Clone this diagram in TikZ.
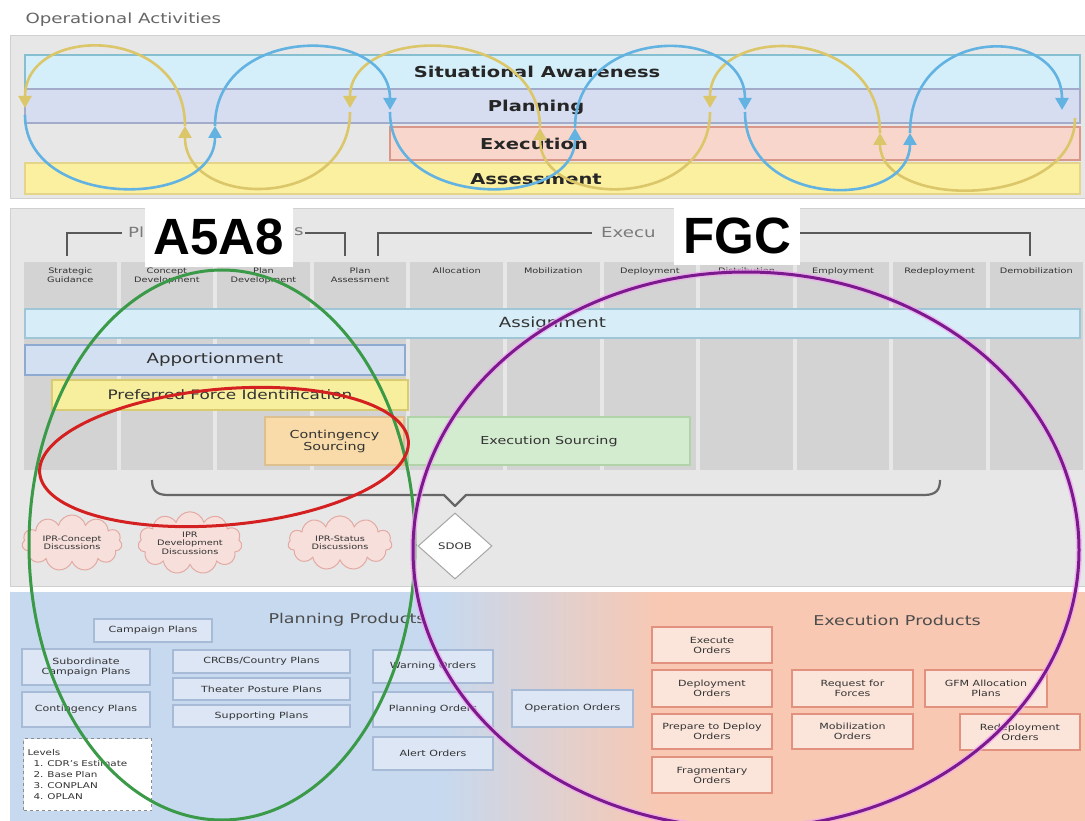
\documentclass[tikz,border=0pt]{standalone}
\usepackage{fontspec}
\setmainfont{DejaVu Sans}[FakeStretch=1.3]
\newfontfamily\tagfont{Liberation Sans}
\usetikzlibrary{arrows.meta,shapes.symbols,shapes.geometric}

\definecolor{panel}{HTML}{E7E7E7}
\definecolor{panelline}{HTML}{D0D0D0}
\definecolor{cell}{HTML}{D3D3D3}
\definecolor{ink}{HTML}{333333}
\definecolor{soft}{HTML}{7A7A7A}
\definecolor{saFill}{HTML}{D5EFFA}\definecolor{saLine}{HTML}{86BFCF}
\definecolor{plFill}{HTML}{D6DDF0}\definecolor{plLine}{HTML}{A3ABCB}
\definecolor{exFill}{HTML}{F9D6CB}\definecolor{exLine}{HTML}{D8978A}
\definecolor{asFill}{HTML}{FBF0A0}\definecolor{asLine}{HTML}{E4D58A}
\definecolor{agFill}{HTML}{D7EEF8}\definecolor{agLine}{HTML}{9FC6D6}
\definecolor{apFill}{HTML}{D3E0F2}\definecolor{apLine}{HTML}{8EAAD0}
\definecolor{pfFill}{HTML}{F7EF9E}\definecolor{pfLine}{HTML}{D9CC70}
\definecolor{csFill}{HTML}{F8DBA8}\definecolor{csLine}{HTML}{DCC090}
\definecolor{esFill}{HTML}{D3EBCF}\definecolor{esLine}{HTML}{B0D4A8}
\definecolor{clFill}{HTML}{F7DFDB}\definecolor{clLine}{HTML}{E3AAA3}
\definecolor{ppFill}{HTML}{DCE6F5}\definecolor{ppLine}{HTML}{A7BAD6}
\definecolor{epFill}{HTML}{FBE5DA}\definecolor{epLine}{HTML}{E2917F}
\definecolor{planBg}{HTML}{C6D9EF}
\definecolor{execBg}{HTML}{F8C8B2}
\definecolor{cycYellow}{HTML}{DCC66A}
\definecolor{cycBlue}{HTML}{62B2E2}
\definecolor{ringGreen}{HTML}{3A9A48}
\definecolor{ringRed}{HTML}{D42020}
\definecolor{ringPurple}{HTML}{7B1A8C}
\definecolor{ringGlow}{HTML}{F2A8F2}

\tikzset{
  boxbase/.style={inner sep=0pt, outer sep=0pt, align=center, text=ink},
  topbar/.style={boxbase, line width=2pt},
  midbar/.style={boxbase, line width=1.2pt},
  prodbox/.style={boxbase, line width=1.2pt, font=\fontsize{8.5}{10}\selectfont},
  planprod/.style={prodbox, draw=ppLine, fill=ppFill},
  execprod/.style={prodbox, draw=epLine, fill=epFill},
  head/.style={boxbase, anchor=north, font=\fontsize{7.5}{8.5}\selectfont},
  cyc/.style={line width=2.6pt, -{Triangle[length=12pt,width=13pt]}},
  bracketline/.style={line width=2pt, draw=black!65},
  bracketlabel/.style={anchor=west, inner sep=0pt, text=soft, font=\fontsize{14}{14}\selectfont},
  ring/.style={line width=3pt},
  ipr/.style={cloud, cloud puffs=11, aspect=2.1, draw=clLine, fill=clFill,
    line width=1pt, inner sep=0pt, align=center, text=ink,
    font=\fontsize{7.5}{8.5}\selectfont},
  tag/.style={fill=white, inner sep=0pt, font=\tagfont\bfseries\fontsize{51}{51}\selectfont}
}

% rectangle node from its two corners: name, x1, y1, x2, y2, style, text
\newcommand\rbox[7]{\node[#6, minimum width={#4-#2}, minimum height={#5-#3}]
  (#1) at ({(#2+#4)/2},{(#3+#5)/2}) {#7};}
% upper and lower halves of the cycle loops
\newcommand\upperarc[5]{\draw[cyc,#1] (#2,#3) .. controls (#2,24) and (#4,24) .. (#4,#5);}
\newcommand\lowerarc[5]{\draw[cyc,#1] (#2,#3) .. controls (#2,210) and (#4,210) .. (#4,#5);}

\begin{document}
\begin{tikzpicture}[x=1pt,y=-1pt]
\useasboundingbox (0,0) rectangle (1085,821);
\clip (0,0) rectangle (1085,821);
\fill[white] (0,0) rectangle (1085,821);

% ---------- operational activities ----------
\node[anchor=west, text=black!60, font=\fontsize{14}{14}\selectfont] (title) at (22,20) {Operational Activities};
\fill[panel, draw=panelline] (10,35) rectangle (1085,198);

\rbox{sa}{25}{55}{1080}{89}{topbar, draw=saLine, fill=saFill}{}
\rbox{pl}{25}{89}{1080}{123}{topbar, draw=plLine, fill=plFill}{}
\rbox{ex}{390}{127}{1080}{160}{topbar, draw=exLine, fill=exFill}{}
\rbox{as}{25}{163}{1080}{194}{topbar, draw=asLine, fill=asFill}{}
\tikzset{bartext/.style={text=black!85, font=\bfseries\fontsize{15}{15}\selectfont}}
\node[bartext] (saT) at (537,72) {Situational Awareness};
\node[bartext] (plT) at (536,107) {Planning};
\node[bartext] (exT) at (534,144) {Execution};
\node[bartext] (asT) at (536,179) {Assessment};

% yellow loop runs right to left, blue loop left to right
\upperarc{cycYellow}{185}{126}{25}{108}
\lowerarc{cycYellow}{350}{112}{185}{126}
\upperarc{cycYellow}{540}{128}{350}{108}
\lowerarc{cycYellow}{710}{112}{540}{128}
\upperarc{cycYellow}{880}{133}{710}{108}
\lowerarc{cycYellow}{1075}{118}{880}{133}
\lowerarc{cycBlue}{25}{115}{215}{126}
\upperarc{cycBlue}{215}{126}{390}{110}
\lowerarc{cycBlue}{390}{112}{575}{128}
\upperarc{cycBlue}{575}{128}{745}{110}
\lowerarc{cycBlue}{745}{112}{910}{133}
\upperarc{cycBlue}{910}{133}{1062}{110}

% ---------- functions ----------
\fill[panel, draw=panelline] (10,208) rectangle (1085,586);

\foreach \i in {0,...,10}{
  \pgfmathsetmacro\xa{22+96.6*\i+2}
  \pgfmathsetmacro\xb{22+96.6*(\i+1)-2}
  \fill[cell] (\xa,262) rectangle (\xb,470);
}
\foreach \i/\t in {0/{Strategic\\Guidance},1/{Concept\\Development},2/{Plan\\Development},
  3/{Plan\\Assessment},4/Allocation,5/Mobilization,6/Deployment,7/Distribution,
  8/Employment,9/Redeployment,10/Demobilization}{
  \node[head] (h\i) at ({22+96.6*\i+48.3},268) {\t};
}

% bracket labels, partly hidden behind the tags
\node[bracketlabel] (pfunA) at (128,232) {Pl};
\node[bracketlabel] (pfunB) at (294,232) {s};
\node[bracketlabel] (efun) at (601,232) {Execu};
\draw[bracketline] (67,256) -- (67,233) -- (122,233);
\draw[bracketline] (305,233) -- (345,233) -- (345,256);
\draw[bracketline] (378,256) -- (378,233) -- (592,233);
\draw[bracketline] (797,233) -- (1030,233) -- (1030,256);

\rbox{assign}{25}{309}{1080}{338}{midbar, draw=agLine, fill=agFill, font=\fontsize{14}{14}\selectfont}{Assignment}
\rbox{apport}{25}{345}{405}{375}{midbar, draw=apLine, fill=apFill, font=\fontsize{14}{14}\selectfont}{Apportionment}
\rbox{pfi}{52}{380}{408}{410}{midbar, draw=pfLine, fill=pfFill, font=\fontsize{13}{13}\selectfont}{Preferred Force Identification}
\rbox{csrc}{265}{417}{404}{465}{midbar, draw=csLine, fill=csFill, font=\fontsize{11}{12}\selectfont}{Contingency\\Sourcing}
\rbox{esrc}{408}{417}{690}{465}{midbar, draw=esLine, fill=esFill, font=\fontsize{11}{11}\selectfont}{Execution Sourcing}

% brace gathering the sourcing effort above the SDOB
\node[diamond, draw=black!35, fill=white, line width=1pt, minimum width=74pt, minimum height=66pt,
  inner sep=0pt, text=ink, font=\fontsize{9}{9}\selectfont] (sdob) at (455,546) {SDOB};
\coordinate (tip) at (455,506);
\draw[line width=2.2pt, draw=black!60, line join=round]
  (152,480) .. controls (152,490) and (156,495) .. (168,495) -- (444,495) -- (tip)
  -- (466,495) -- (924,495) .. controls (936,495) and (940,490) .. (940,480);

\node[ipr, minimum width=100pt, minimum height=50pt] (ipr1) at (72,543) {IPR-Concept\\Discussions};
\node[ipr, minimum width=104pt, minimum height=54pt] (ipr2) at (190,543) {IPR\\Development\\Discussions};
\node[ipr, minimum width=104pt, minimum height=50pt] (ipr3) at (340,543) {IPR-Status\\Discussions};

% ---------- products ----------
\fill[planBg] (10,592) rectangle (440,821);
\shade[left color=planBg, right color=execBg] (439,592) rectangle (661,821);
\fill[execBg] (660,592) rectangle (1085,821);

\node[text=black!70, font=\fontsize{13.5}{13.5}\selectfont] (pprod) at (347,620) {Planning Products};
\node[text=black!70, font=\fontsize{13.5}{13.5}\selectfont] (eprod) at (897,620) {Execution Products};

\rbox{camp}{94}{619}{212}{642}{planprod}{Campaign Plans}
\rbox{subc}{22}{649}{150}{685}{planprod}{Subordinate\\Campaign Plans}
\rbox{cont}{22}{692}{150}{727}{planprod}{Contingency Plans}
\rbox{ctry}{173}{650}{350}{673}{planprod}{CRCBs/Country Plans}
\rbox{post}{173}{678}{350}{700}{planprod}{Theater Posture Plans}
\rbox{supp}{173}{705}{350}{727}{planprod}{Supporting Plans}
\rbox{warn}{373}{650}{493}{683}{planprod}{Warning Orders}
\rbox{plan}{373}{692}{493}{727}{planprod}{Planning Orders}
\rbox{alert}{373}{737}{493}{770}{planprod}{Alert Orders}
\rbox{oper}{512}{690}{633}{727}{planprod}{Operation Orders}
\node[draw=black!45, dashed, fill=white, line width=1pt, anchor=north west, minimum width=128pt,
  minimum height=72pt, text width=120pt, inner sep=4pt, align=left, text=ink,
  font=\fontsize{8}{11}\selectfont] (levels) at (23,738)
  {Levels\\\hspace*{6pt}1. CDR's Estimate\\\hspace*{6pt}2. Base Plan\\\hspace*{6pt}3. CONPLAN\\\hspace*{6pt}4. OPLAN};

\rbox{exo}{652}{627}{772}{663}{execprod}{Execute\\Orders}
\rbox{depo}{652}{670}{772}{707}{execprod}{Deployment\\Orders}
\rbox{ptdo}{652}{714}{772}{749}{execprod}{Prepare to Deploy\\Orders}
\rbox{frag}{652}{757}{772}{793}{execprod}{Fragmentary\\Orders}
\rbox{rff}{792}{670}{913}{707}{execprod}{Request for\\Forces}
\rbox{mobo}{792}{714}{913}{749}{execprod}{Mobilization\\Orders}
\rbox{gfm}{925}{670}{1047}{707}{execprod}{GFM Allocation\\Plans}
\rbox{redo}{960}{714}{1080}{750}{execprod}{Redeployment\\Orders}

% ---------- highlighted scopes ----------
\draw[ring, ringGreen] (222,545) ellipse [x radius=193, y radius=275];
\draw[ring, ringRed, rotate around={5:(224,457)}] (224,457) ellipse [x radius=185, y radius=68];
\draw[line width=6pt, ringGlow, opacity=0.7] (746,550) ellipse [x radius=333, y radius=278];
\draw[ring, ringPurple] (746,550) ellipse [x radius=333, y radius=278];

\rbox{a5a8}{145}{207}{293}{267}{tag}{A5A8}
\rbox{fgc}{674}{207}{800}{265}{tag}{FGC}
\end{tikzpicture}
\end{document}
